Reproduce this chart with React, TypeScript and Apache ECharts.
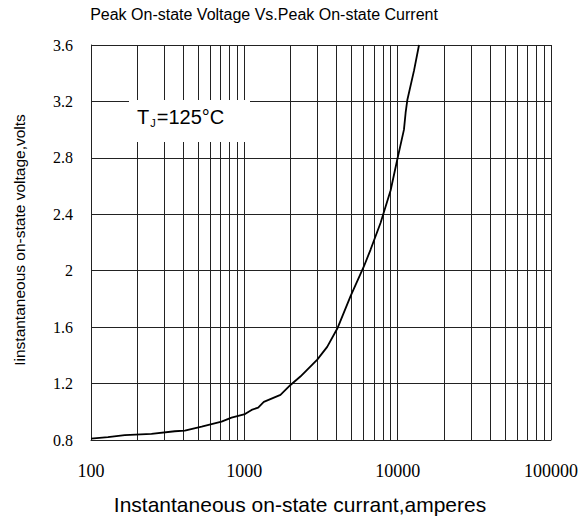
import React, { useEffect, useRef } from "react";
import * as echarts from "echarts";

const titleText = "Peak On-state Voltage Vs.Peak On-state Current";
const xAxisTitle = "Instantaneous on-state currant,amperes";
const yAxisTitle = "Iinstantaneous on-state voltage,volts";

const currentA = [
  100, 129, 166, 248, 352, 409, 527, 710, 825, 1010, 1115, 1231, 1340, 1720, 2000, 2320,
  2990, 3470, 4040, 4930, 6020, 6660, 7740, 9000, 9950, 10990, 11270, 11560, 12790, 13780,
];
const voltageV = [
  0.81, 0.82, 0.835, 0.843, 0.862, 0.866, 0.894, 0.93, 0.958, 0.984, 1.013, 1.03, 1.07, 1.12, 1.19, 1.25,
  1.37, 1.46, 1.59, 1.82, 2.03, 2.15, 2.34, 2.57, 2.79, 3.0, 3.12, 3.21, 3.42, 3.6,
];

const decades = [100, 1000, 10000];
const multipliers = [2, 3, 4, 5, 6, 7, 8, 9];

const yMin = 0.8;
const yMax = 3.6;
const yStep = 0.4;
const xMin = 100;
const xMax = 100000;

const sans = "Liberation Sans, Arial, sans-serif";
const serif = "Liberation Serif, Times New Roman, serif";

export default function App() {
  const ref = useRef<HTMLDivElement>(null);
  useEffect(() => {
    if (!ref.current) return;
    const chart = echarts.init(ref.current, undefined, { renderer: "svg" });
    const minorLines: number[] = [];
    decades.forEach((d) => multipliers.forEach((m) => minorLines.push(d * m)));
    const lineColor = "#222";
    chart.setOption({
      animation: false,
      backgroundColor: "#fff",
      grid: { left: 91, right: 30, top: 45, bottom: 80 },
      xAxis: {
        type: "log",
        logBase: 10,
        min: xMin,
        max: xMax,
        axisLine: { show: true, lineStyle: { color: lineColor, width: 1 } },
        axisTick: { show: false },
        axisLabel: {
          margin: 22,
          color: "#000",
          fontFamily: serif,
          fontSize: 18,
          formatter: (v: number) => String(Math.round(v)),
        },
        splitLine: { show: true, lineStyle: { color: lineColor, width: 1 } },
      },
      yAxis: {
        type: "value",
        min: yMin,
        max: yMax,
        interval: yStep,
        axisLine: { show: true, lineStyle: { color: lineColor, width: 1 } },
        axisTick: { show: false },
        axisLabel: {
          margin: 18,
          color: "#000",
          fontFamily: serif,
          fontSize: 16,
        },
        splitLine: { show: true, lineStyle: { color: lineColor, width: 1 } },
      },
      graphic: [
        {
          type: "text",
          x: 264,
          y: 14,
          style: {
            text: titleText,
            fontFamily: sans,
            fontSize: 16,
            fill: "#000",
            align: "center",
            verticalAlign: "middle",
          },
        },
        {
          type: "text",
          x: 300,
          y: 504,
          style: {
            text: xAxisTitle,
            fontFamily: sans,
            fontSize: 21,
            fill: "#000",
            align: "center",
            verticalAlign: "middle",
          },
        },
        {
          type: "text",
          x: 19,
          y: 240,
          rotation: Math.PI / 2,
          style: {
            text: yAxisTitle,
            fontFamily: sans,
            fontSize: 15.5,
            fill: "#000",
            align: "center",
            verticalAlign: "middle",
          },
        },
        {
          type: "rect",
          z: 100,
          shape: { x: 129, y: 100, width: 121, height: 42 },
          style: { fill: "#fff" },
        },
        {
          type: "text",
          z: 101,
          x: 137,
          y: 117,
          style: {
            text: "T{sub|J}=125°C",
            fontFamily: sans,
            fontSize: 20,
            fill: "#000",
            verticalAlign: "middle",
            rich: {
              sub: { fontSize: 11, padding: [12, 1, 0, 1], fontFamily: sans },
            },
          },
        },
      ],
      series: [
        {
          type: "line",
          data: currentA.map((c, i) => [c, voltageV[i]]),
          showSymbol: false,
          smooth: false,
          lineStyle: { color: "#000", width: 1.8 },
          z: 5,
          markLine: {
            silent: true,
            symbol: "none",
            label: { show: false },
            lineStyle: { color: lineColor, width: 1, type: "solid" },
            data: minorLines.map((v) => ({ xAxis: v })),
            z: 1,
          },
        },
      ],
    });
    return () => chart.dispose();
  }, []);
  return (
    <div
      ref={ref}
      style={{ position: "fixed", left: 0, top: 0, width: 581, height: 520 }}
    />
  );
}
